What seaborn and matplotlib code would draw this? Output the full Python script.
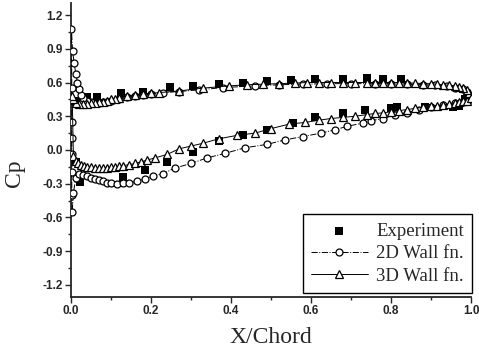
import matplotlib
matplotlib.use("Agg")
import matplotlib.pyplot as plt
from matplotlib.ticker import MultipleLocator
import numpy as np
import pandas as pd
import seaborn as sns

# Experiment (filled squares)
exp_upper_x = [0.005, 0.012, 0.04, 0.065, 0.125, 0.18, 0.2475, 0.305, 0.37, 0.43, 0.49, 0.55,
               0.61, 0.68, 0.74, 0.78, 0.825, 0.985]
exp_upper_cp = [0.44, 0.44, 0.47, 0.47, 0.51, 0.52, 0.56, 0.57, 0.59, 0.60, 0.61, 0.62,
                0.63, 0.63, 0.64, 0.63, 0.63, 0.45]
exp_lower_x = [0.012, 0.0225, 0.13, 0.185, 0.24, 0.305, 0.37, 0.43, 0.49, 0.555, 0.61, 0.68,
               0.735, 0.80, 0.815, 0.885, 0.955, 0.97]
exp_lower_cp = [-0.11, -0.285, -0.24, -0.18, -0.11, -0.02, 0.08, 0.13, 0.18, 0.24, 0.29, 0.33,
                0.36, 0.37, 0.38, 0.38, 0.38, 0.39]

# 2D wall function (open circles, dash-dot)
wall2d_upper_x = [0.001, 0.004, 0.008, 0.012, 0.016, 0.02, 0.025, 0.03, 0.04, 0.05,
                  0.06, 0.07, 0.08, 0.09, 0.10, 0.12, 0.14, 0.16, 0.18, 0.20,
                  0.23, 0.27, 0.32, 0.38, 0.46, 0.52, 0.58, 0.64, 0.70, 0.76,
                  0.80, 0.84, 0.88, 0.91, 0.94, 0.96, 0.98, 0.99, 1.0]
wall2d_upper_cp = [1.08, 0.88, 0.77, 0.68, 0.60, 0.54, 0.49, 0.46, 0.44, 0.43,
                   0.42, 0.42, 0.425, 0.43, 0.44, 0.455, 0.47, 0.48, 0.49, 0.50,
                   0.51, 0.52, 0.535, 0.555, 0.57, 0.58, 0.585, 0.59, 0.59, 0.59,
                   0.59, 0.585, 0.58, 0.575, 0.565, 0.555, 0.54, 0.52, 0.47]
wall2d_lower_x = [0.002, 0.002, 0.002, 0.002, 0.002, 0.002, 0.003, 0.006, 0.012, 0.02,
                  0.03, 0.04, 0.05, 0.06, 0.07, 0.08, 0.09, 0.10, 0.115, 0.13,
                  0.145, 0.165, 0.185, 0.205, 0.23, 0.26, 0.30, 0.34, 0.385, 0.435,
                  0.49, 0.535, 0.58, 0.625, 0.66, 0.69, 0.73, 0.75, 0.78, 0.81,
                  0.84, 0.87, 0.90, 0.93, 0.96, 0.98, 1.0]
wall2d_lower_cp = [0.55, 0.25, 0.11, -0.04, -0.20, -0.40, -0.55, -0.38, -0.25, -0.21,
                   -0.22, -0.235, -0.25, -0.26, -0.27, -0.28, -0.29, -0.295, -0.30, -0.295,
                   -0.29, -0.28, -0.255, -0.23, -0.21, -0.16, -0.12, -0.07, -0.03, 0.02,
                   0.05, 0.09, 0.12, 0.15, 0.18, 0.21, 0.24, 0.26, 0.28, 0.31,
                   0.33, 0.36, 0.38, 0.40, 0.42, 0.43, 0.45]

# 3D wall function (open triangles, solid)
wall3d_upper_x = [0.003, 0.006, 0.012, 0.02, 0.03, 0.04, 0.05, 0.06, 0.07, 0.08,
                  0.09, 0.10, 0.11, 0.12, 0.14, 0.16, 0.18, 0.20, 0.22, 0.27,
                  0.33, 0.395, 0.44, 0.48, 0.52, 0.56, 0.59, 0.62, 0.65, 0.68,
                  0.71, 0.74, 0.76, 0.78, 0.80, 0.82, 0.84, 0.86, 0.88, 0.90,
                  0.915, 0.93, 0.945, 0.96, 0.97, 0.98, 0.99, 0.995, 1.0]
wall3d_upper_cp = [0.48, 0.45, 0.42, 0.41, 0.405, 0.41, 0.415, 0.42, 0.425, 0.43,
                   0.44, 0.45, 0.455, 0.465, 0.48, 0.49, 0.50, 0.505, 0.51, 0.525,
                   0.55, 0.57, 0.58, 0.585, 0.59, 0.595, 0.60, 0.60, 0.60, 0.60,
                   0.60, 0.60, 0.60, 0.60, 0.60, 0.60, 0.595, 0.595, 0.59, 0.59,
                   0.585, 0.58, 0.575, 0.57, 0.56, 0.55, 0.53, 0.51, 0.47]
wall3d_lower_x = [0.006, 0.012, 0.018, 0.025, 0.032, 0.04, 0.05, 0.06, 0.07, 0.08,
                  0.09, 0.10, 0.11, 0.12, 0.13, 0.145, 0.16, 0.175, 0.19, 0.21,
                  0.24, 0.27, 0.30, 0.33, 0.37, 0.415, 0.46, 0.50, 0.545, 0.585,
                  0.62, 0.65, 0.68, 0.71, 0.74, 0.76, 0.78, 0.80, 0.82, 0.84,
                  0.86, 0.88, 0.90, 0.915, 0.93, 0.945, 0.96, 0.97, 0.98, 0.99, 1.0]
wall3d_lower_cp = [-0.05, -0.10, -0.12, -0.13, -0.14, -0.15, -0.155, -0.16, -0.16, -0.16,
                   -0.16, -0.155, -0.15, -0.145, -0.14, -0.13, -0.12, -0.105, -0.09, -0.07,
                   -0.04, 0.01, 0.035, 0.06, 0.10, 0.13, 0.15, 0.19, 0.23, 0.245,
                   0.265, 0.28, 0.29, 0.30, 0.315, 0.325, 0.33, 0.34, 0.35, 0.36,
                   0.37, 0.38, 0.39, 0.395, 0.40, 0.41, 0.42, 0.43, 0.435, 0.44, 0.46]

sns.set_style("ticks")
plt.rcParams['font.family'] = ['Liberation Sans', 'DejaVu Sans']
SERIF = ['Liberation Serif', 'DejaVu Serif']

# Build tables: surface loop goes TE -> upper -> LE -> lower -> TE
exp_df = pd.DataFrame({'x': exp_upper_x + exp_lower_x, 'cp': exp_upper_cp + exp_lower_cp})
w2_df = pd.DataFrame({'x': wall2d_upper_x[::-1] + wall2d_lower_x,
                      'cp': wall2d_upper_cp[::-1] + wall2d_lower_cp})
w3_df = pd.DataFrame({'x': wall3d_upper_x[::-1] + wall3d_lower_x,
                      'cp': wall3d_upper_cp[::-1] + wall3d_lower_cp})

fig = plt.figure(figsize=(4.79, 3.53), dpi=100)
ax = fig.add_axes([71 / 479, 56 / 353, 400 / 479, 294 / 353])

sns.scatterplot(data=exp_df, x='x', y='cp', marker='s', color='black', s=36,
                edgecolor='black', linewidth=0, label='Experiment', ax=ax, zorder=3)
sns.lineplot(data=w2_df, x='x', y='cp', sort=False, estimator=None, color='black',
             linestyle='-.', linewidth=0.7, marker='o', markersize=5,
             markerfacecolor='white', markeredgecolor='black', markeredgewidth=0.9,
             label='2D Wall fn.', ax=ax, zorder=4)
sns.lineplot(data=w3_df, x='x', y='cp', sort=False, estimator=None, color='black',
             linestyle='-', linewidth=0.7, marker='^', markersize=6,
             markerfacecolor='white', markeredgecolor='black', markeredgewidth=0.9,
             label='3D Wall fn.', ax=ax, zorder=5)

ax.set_xlim(0, 1.0)
ax.set_ylim(-1.307, 1.307)
ax.xaxis.set_major_locator(MultipleLocator(0.2))
ax.xaxis.set_minor_locator(MultipleLocator(0.1))
ax.yaxis.set_minor_locator(MultipleLocator(0.15))
ax.set_yticks(np.arange(-1.2, 1.21, 0.3))
ax.xaxis.set_major_formatter(plt.FuncFormatter(lambda v, p: f"{v:.1f}"))
ax.yaxis.set_major_formatter(plt.FuncFormatter(lambda v, p: f"{v:.1f}"))
ax.tick_params(which='major', length=4, width=1.0, labelsize=8.5, direction='out', pad=2)
ax.tick_params(which='minor', length=2.5, width=1.0, direction='out')
for lab in ax.get_xticklabels() + ax.get_yticklabels():
    lab.set_fontweight('bold')

sns.despine(ax=ax)
for side in ['left', 'bottom']:
    ax.spines[side].set_linewidth(1.3)

ax.set_xlabel('X/Chord', family=SERIF, fontsize=17, labelpad=7)
ax.set_ylabel('Cp', family=SERIF, fontsize=17)
ax.yaxis.set_label_coords(-0.115, 0.42)

leg = ax.legend(loc='lower right', bbox_to_anchor=(1.003, 0.012), frameon=True, fancybox=False,
                edgecolor='black', framealpha=1, handlelength=3.0, handletextpad=0.45,
                borderpad=0.45, labelspacing=0.3, borderaxespad=0,
                prop={'family': SERIF, 'size': 13.5})
leg.get_frame().set_linewidth(1.0)

fig.savefig('out.png', dpi=100)
